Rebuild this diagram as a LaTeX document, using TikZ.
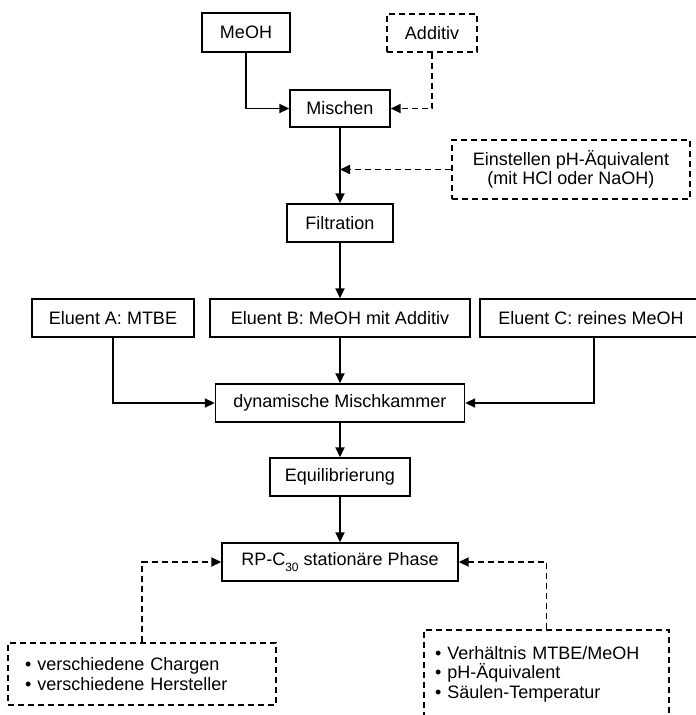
\documentclass[tikz,border=0pt]{standalone}
\usepackage{fontspec}
\setmainfont{Liberation Sans}
\usetikzlibrary{arrows.meta}
\tikzset{
  box/.style={draw, line width=1.4pt, minimum height=38pt, inner sep=0pt, align=center,
    font=\fontsize{18}{19.5}\selectfont},
  dbox/.style={box, dash pattern=on 6pt off 4pt},
  flow/.style={line width=1.8pt, -{Triangle[length=10pt,width=9pt]}},
  dflow/.style={flow, dash pattern=on 6pt off 4pt},
}
\newcommand{\subsc}[1]{\raisebox{-0.3em}{\fontsize{12}{12}\selectfont #1}}
\begin{document}
\begin{tikzpicture}[x=1pt,y=-1pt]
\useasboundingbox (0,0) rectangle (696,715);
\node[box, minimum width=88pt, minimum height=39pt] (meoh) at (246,32.5) {MeOH};
\node[dbox, minimum width=90pt] (add) at (432,33) {Additiv};
\node[box, minimum width=100pt, minimum height=37pt] (misch) at (340,108.5) {Mischen};
\node[dbox, minimum width=238pt, minimum height=59pt] (einst) at (571,169.5) {Einstellen pH-Äquivalent\\(mit HCl oder NaOH)};
\node[box, minimum width=106pt] (filt) at (340,223) {Filtration};
\node[box, minimum width=162pt] (elA) at (113,318) {Eluent A: MTBE};
\node[box, minimum width=260pt] (elB) at (340,318) {Eluent B: MeOH mit Additiv};
\node[box, minimum width=222pt] (elC) at (591,318) {Eluent C: reines MeOH};
\node[box, minimum width=249pt] (mk) at (340,403) {dynamische Mischkammer};
\node[box, minimum width=140pt] (equi) at (340,477) {Equilibrierung};
\node[box, minimum width=236pt] (rp) at (340,562) {RP-C\subsc{30} stationäre Phase};
\node[dbox, text width=234pt, inner xsep=17pt, align=left, minimum height=62pt] (lb) at (142,674)
  {• verschiedene Chargen\\• verschiedene Hersteller};
\node[dbox, text width=223pt, inner xsep=11pt, align=left, minimum height=88pt] (rb) at (546.5,674)
  {• Verhältnis MTBE/MeOH\\• pH-Äquivalent\\• Säulen-Temperatur};

\draw[flow] (meoh.south) |- (misch.west);
\draw[dflow] (add.south) |- (misch.east);
\draw[flow] (misch.south) -- (filt.north);
\draw[dflow] (einst.west) -- (einst.west -| misch.south);
\draw[flow] (filt.south) -- (elB.north);
\draw[flow] (elA.south) |- (mk.west);
\draw[flow] (elB.south) -- (mk.north);
\draw[flow] ([xshift=3pt]elC.south) |- (mk.east);
\draw[flow] (mk.south) -- (equi.north);
\draw[flow] (equi.south) -- (rp.north);
\draw[dflow] (lb.north) |- (rp.west);
\draw[dflow] (rb.north) |- (rp.east);
\end{tikzpicture}
\end{document}
